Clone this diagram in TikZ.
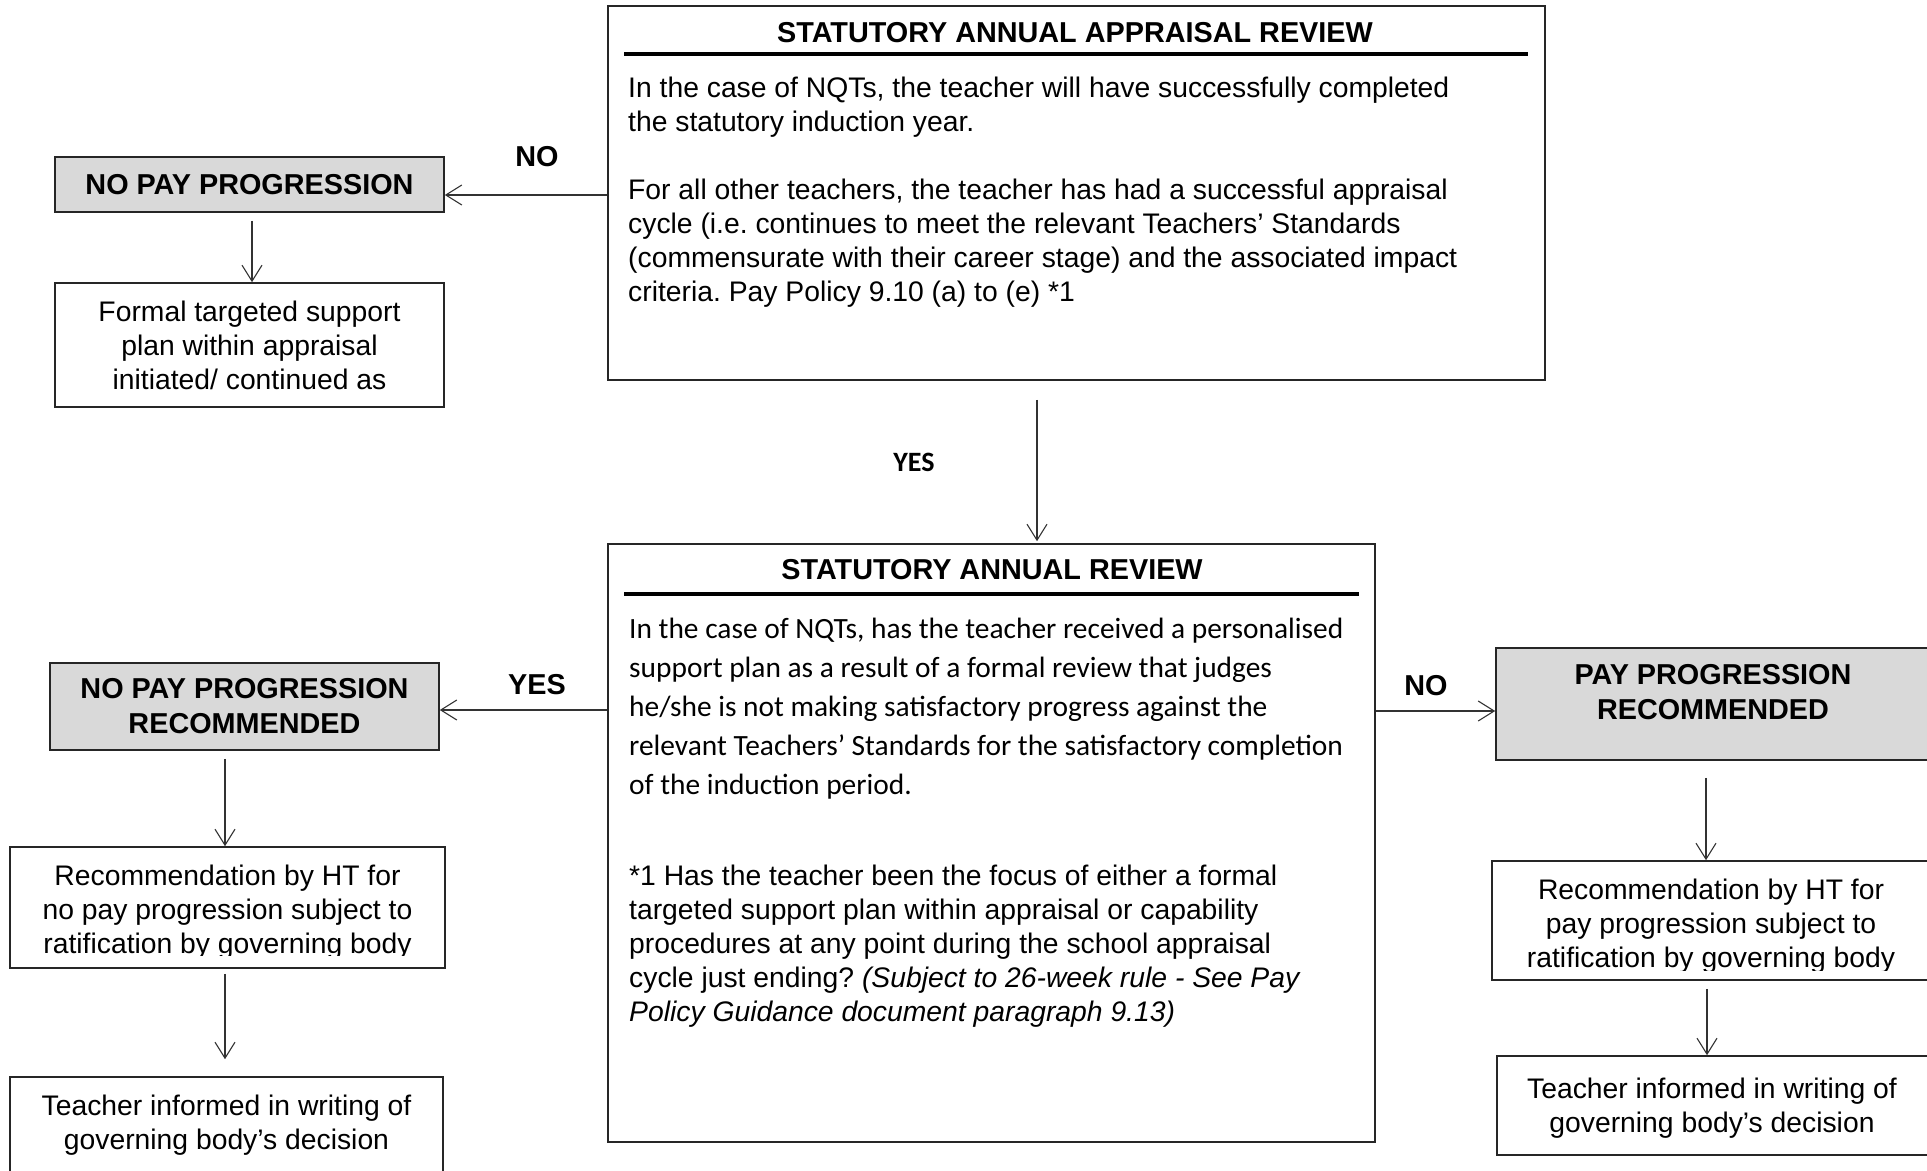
\documentclass[tikz,border=0pt]{standalone}
\usepackage{fontspec}
\setmainfont{Liberation Sans}
\newfontfamily\calibrifont{Carlito}
\usetikzlibrary{arrows.meta}
\definecolor{boxgray}{HTML}{D9D9D9}
\definecolor{edgegray}{HTML}{262626}
\newcommand\bodyfont{\fontsize{28.3}{34}\selectfont}
\newcommand\calfont{\calibrifont\fontsize{29.4}{39}\selectfont}
\newcommand\headfont{\bfseries\fontsize{28.8}{35}\selectfont}
\frenchspacing
\begin{document}
\begin{tikzpicture}[x=1pt,y=-1pt,
  box/.style={draw=edgegray, line width=1.6pt, inner sep=0pt, rectangle},
  graybox/.style={box, fill=boxgray},
  txt/.style={inner sep=0pt, align=center, font=\bodyfont},
  hd/.style={inner sep=0pt, align=center, font=\headfont},
  arr/.style={draw=black!80, line width=1.1pt, -{Straight Barb[length=16pt,width=20pt,line width=1.1pt]}},
  lbl/.style={inner sep=0pt, font=\headfont}]
\useasboundingbox (0,0) rectangle (1927,1170);
\clip (0,0) rectangle (1927,1170);
\fill[white] (0,0) rectangle (1927,1170);

% ---------- top decision box ----------
\node[box, minimum width=937pt, minimum height=374pt] (A) at (1076.5,193) {};
\node[hd] (Atitle) at (1075,33) {STATUTORY ANNUAL APPRAISAL REVIEW};
\draw[line width=3.5pt] (624,54) -- (1528,54);
\node[anchor=north west, inner sep=0pt, align=left, font=\bodyfont] (Atext) at (628,77)
 {In the case of NQTs, the teacher will have successfully completed\\
  the statutory induction year.\\[34pt]
  For all other teachers, the teacher has had a successful appraisal\\
  cycle (i.e. continues to meet the relevant Teachers’ Standards\\
  (commensurate with their career stage) and the associated impact\\
  criteria. Pay Policy 9.10 (a) to (e) *1};

% ---------- top left ----------
\node[graybox, minimum width=389pt, minimum height=55pt, font=\headfont] (NPP) at (249.5,184.5) {NO PAY PROGRESSION};
\node[box, minimum width=389pt, minimum height=124pt, align=center, font=\bodyfont] (FORM) at (249.5,345)
 {Formal targeted support\\plan within appraisal\\initiated/ continued as};

% ---------- middle box ----------
\node[box, minimum width=767pt, minimum height=598pt] (B) at (991.5,843) {};
\node[hd] (Btitle) at (992,570) {STATUTORY ANNUAL REVIEW};
\draw[line width=3.5pt] (624,594) -- (1359,594);
\node[anchor=north west, inner sep=0pt, align=left, font=\calfont] (Btext) at (629,618)
 {In the case of NQTs, has the teacher received a personalised\\
  support plan as a result of a formal review that judges\\
  he/she is not making satisfactory progress against the\\
  relevant Teachers’ Standards for the satisfactory completion\\
  of the induction period.};
\node[anchor=north west, inner sep=0pt, align=left, font=\bodyfont] (Bnote) at (629,865)
 {*1 Has the teacher been the focus of either a formal\\
  targeted support plan within appraisal or capability\\
  procedures at any point during the school appraisal\\
  cycle just ending? \textit{(Subject to 26-week rule - See Pay}\\
  \textit{Policy Guidance document paragraph 9.13)}};

% ---------- left column ----------
\node[graybox, minimum width=389pt, minimum height=87pt, align=center, font=\headfont] (NPR) at (244.5,706.5)
 {NO PAY PROGRESSION\\RECOMMENDED};
\node[box, minimum width=435pt, minimum height=121pt] (RECL) at (227.5,907.5) {};
\begin{scope}
\clip (10,840) rectangle (445,955.5);
\node[txt] (RECLtext) at (227.5,912.5) {Recommendation by HT for\\no pay progression subject to\\ratification by governing body};
\end{scope}
\node[box, minimum width=433pt, minimum height=96pt] (TEACHL) at (226.5,1125) {};
\node[txt] (TEACHLtext) at (226.5,1125.5) {Teacher informed in writing of\\governing body’s decision};

% ---------- right column ----------
\node[graybox, minimum width=435pt, minimum height=112pt] (PPR) at (1713.5,704) {};
\node[hd] (PPRtext) at (1713,692) {PAY PROGRESSION\\RECOMMENDED};
\node[box, minimum width=439pt, minimum height=119pt] (RECR) at (1711.5,920.5) {};
\begin{scope}
\clip (1492,855) rectangle (1931,970);
\node[txt] (RECRtext) at (1711,926) {Recommendation by HT for\\pay progression subject to\\ratification by governing body};
\end{scope}
\node[box, minimum width=434pt, minimum height=99pt] (TEACHR) at (1714,1105.5) {};
\node[txt] (TEACHRtext) at (1712,1108) {Teacher informed in writing of\\governing body’s decision};

% ---------- connectors ----------
\draw[arr] (A.west |- 0,195) -- (NPP.east |- 0,195);
\node[lbl] (noA) at (537,157) {NO};
\draw[arr, shorten <=8pt] (NPP.south -| 252,0) -- (FORM.north -| 252,0);

\draw[arr, shorten <=19pt, shorten >=2pt] (A.south -| 1037,0) -- (B.north -| 1037,0);
\node[inner sep=0pt, font=\calibrifont\bfseries\fontsize{28}{32}\selectfont] (yesA) at (914,462) {YES};

\draw[arr] (B.west |- 0,710) -- (NPR.east |- 0,710);
\node[lbl] (yesB) at (537,685) {YES};
\draw[arr, shorten <=8pt] (NPR.south -| 225,0) -- (RECL.north -| 225,0);
\draw[arr, shorten <=5pt, shorten >=17pt] (RECL.south -| 225,0) -- (TEACHL.north -| 225,0);

\draw[arr] (B.east |- 0,711) -- (PPR.west |- 0,711);
\node[lbl] (noB) at (1426,686) {NO};
\draw[arr, shorten <=17pt] (PPR.south -| 1706,0) -- (RECR.north -| 1706,0);
\draw[arr, shorten <=8pt] (RECR.south -| 1707,0) -- (TEACHR.north -| 1707,0);
\end{tikzpicture}
\end{document}
